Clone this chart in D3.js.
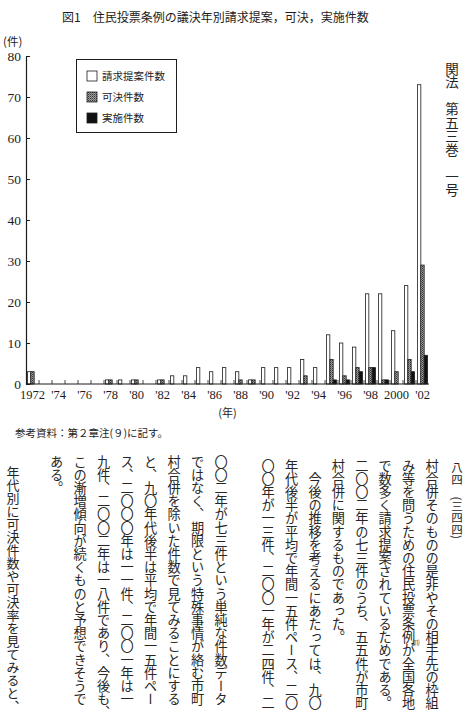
<!DOCTYPE html>
<html>
<head>
<meta charset="utf-8">
<script src="https://cdn.jsdelivr.net/npm/d3@7"></script>
<style>
  html, body { margin: 0; padding: 0; background: #fff; }
  svg { display: block; }
</style>
</head>
<body>
<div id="main"></div>
<script>
// Datos del gráfico: año de votación, propuestas, aprobadas, realizadas
var years = d3.range(1972, 2003);
var proposals   = [3,0,0,0,0,0,1,1,1,0,1,2,2,4,3,4,3,1,4,4,4,6,4,12,10,9,22,22,13,24,73];
var passed      = [3,0,0,0,0,0,1,0,1,0,1,0,0,0,0,0,1,1,0,0,0,2,0,6,2,4,4,1,3,6,29];
var implemented = [0,0,0,0,0,0,0,0,0,0,0,0,0,0,0,0,0,0,0,0,0,0,0,1,1,3,4,1,0,3,7];
var seriesNames = ["請求提案件数", "可決件数", "実施件数"];
var yTicks = [0, 10, 20, 30, 40, 50, 60, 70, 80];
var labelYears = [1972,1974,1976,1978,1980,1982,1984,1986,1988,1990,1992,1994,1996,1998,2000,2002];

// Texto vertical de la página (columnas de derecha a izquierda)
var rightColumns = [
  "村合併そのものの是非やその相手先の枠組",
  "み等を問うための住民投票条例が全国各地",
  "で数多く請求提案されているためである。",
  "二〇〇二年の七三件のうち、五五件が市町",
  "村合併に関するものであった。",
  "　今後の推移を考えるにあたっては、九〇",
  "年代後半が平均で年間一五件ペース、二〇",
  "〇〇年が一三件、二〇〇一年が二四件、二"
];
var leftColumns = [
  "〇〇二年が七三件という単純な件数データ",
  "ではなく、期限という特殊事情が絡む市町",
  "村合併を除いた件数で見てみることにする",
  "と、九〇年代後半は平均で年間一五件ペー",
  "ス、二〇〇〇年は一一件、二〇〇一年は一",
  "九件、二〇〇二年は一八件であり、今後も、",
  "この漸増傾向が続くものと予想できそうで",
  "ある。"
];
var lastColumn = "年代別に可決件数や可決率を見てみると、";

var width = 465, height = 721;
var ink = "#1c1c1c";
var cjk = "'Noto Sans CJK JP', sans-serif";
var serif = "'Liberation Serif', 'DejaVu Serif', serif";

var svg = d3.select("#main").append("svg")
  .attr("width", width)
  .attr("height", height)
  .style("background", "#fff");

// Trama para las barras de aprobadas
var pat = svg.append("defs").append("pattern")
  .attr("id", "hatch")
  .attr("patternUnits", "userSpaceOnUse")
  .attr("width", 2)
  .attr("height", 2);
pat.append("rect").attr("width", 2).attr("height", 2).attr("fill", "#a0a0a0");
pat.append("rect").attr("width", 1).attr("height", 1).attr("fill", "#333");
pat.append("rect").attr("x", 1).attr("y", 1).attr("width", 1).attr("height", 1).attr("fill", "#666");

var fills = ["#fff", "url(#hatch)", "#111"];

// Título
svg.append("text")
  .attr("x", 62).attr("y", 22)
  .style("font-family", cjk).style("font-size", "12px").style("fill", ink)
  .text("図1　住民投票条例の議決年別請求提案，可決，実施件数");

svg.append("text")
  .attr("x", 3).attr("y", 46)
  .style("font-family", cjk).style("font-size", "11.5px").style("fill", ink)
  .text("(件)");

// Escalas
var x = d3.scaleBand().domain(years).range([26, 429]).padding(0);
var xs = d3.scaleBand().domain([0, 1, 2]).range([1.5, 11.5]).padding(0);
var y = d3.scaleLinear().domain([0, 80]).range([384, 56]);

var chart = svg.append("g");

// Barras
var table = [proposals, passed, implemented];
table.forEach(function(values, s) {
  chart.append("g").selectAll("rect")
    .data(years.map(function(yr, i) { return { year: yr, v: values[i] }; }).filter(function(d) { return d.v > 0; }))
    .enter().append("rect")
    .attr("x", function(d) { return x(d.year) + xs(s); })
    .attr("y", function(d) { return y(d.v); })
    .attr("width", xs.bandwidth())
    .attr("height", function(d) { return y(0) - y(d.v); })
    .attr("fill", fills[s])
    .attr("stroke", ink)
    .attr("stroke-width", 0.8);
});

// Eje Y
var yAxis = svg.append("g")
  .attr("transform", "translate(26,0)")
  .call(d3.axisLeft(y).tickValues(yTicks).tickSize(-4).tickSizeOuter(0).tickPadding(5));
yAxis.select(".domain").attr("stroke", ink).attr("stroke-width", 1.2);
yAxis.selectAll(".tick line").attr("stroke", ink).attr("stroke-width", 1);
yAxis.selectAll(".tick text")
  .style("font-family", serif).style("font-size", "13.5px").style("fill", ink);

// Eje X: línea base y marcas entre años
svg.append("line")
  .attr("x1", x.range()[0]).attr("x2", x.range()[1])
  .attr("y1", y(0)).attr("y2", y(0))
  .attr("stroke", ink).attr("stroke-width", 1.2);
svg.append("g").selectAll("line")
  .data(years.slice(1))
  .enter().append("line")
  .attr("x1", function(d) { return x(d); })
  .attr("x2", function(d) { return x(d); })
  .attr("y1", y(0)).attr("y2", y(0) - 4)
  .attr("stroke", ink).attr("stroke-width", 0.8);

var xAxis = svg.append("g")
  .attr("transform", "translate(0," + y(0) + ")")
  .call(d3.axisBottom(x).tickValues(labelYears).tickSize(0).tickPadding(6)
    .tickFormat(function(d) { return (d === 1972 || d === 2000) ? String(d) : "'" + String(d).slice(2); }));
xAxis.select(".domain").remove();
xAxis.selectAll(".tick text")
  .style("font-family", serif).style("font-size", "12.5px").style("fill", ink);

svg.append("text")
  .attr("x", (x.range()[0] + x.range()[1]) / 2).attr("y", 417)
  .attr("text-anchor", "middle")
  .style("font-family", cjk).style("font-size", "11px").style("fill", ink)
  .text("(年)");

// Leyenda
var legend = svg.append("g");
legend.append("rect")
  .attr("x", 76.5).attr("y", 59.5).attr("width", 100).attr("height", 73)
  .attr("fill", "#fff").attr("stroke", ink).attr("stroke-width", 1);
seriesNames.forEach(function(name, i) {
  legend.append("rect")
    .attr("x", 87).attr("y", 71 + i * 21).attr("width", 10).attr("height", 10)
    .attr("fill", fills[i]).attr("stroke", ink).attr("stroke-width", 0.8);
  legend.append("text")
    .attr("x", 102).attr("y", 80 + i * 21)
    .style("font-family", cjk).style("font-size", "10.5px").style("fill", ink)
    .text(name);
});

// Nota de fuente
svg.append("text")
  .attr("x", 15).attr("y", 437)
  .style("font-family", cjk).style("font-size", "10.5px").style("fill", ink)
  .text("参考資料：第２章注(９)に記す。");

// Encabezado vertical de la revista y número de página
function vtext(px, py, size, str) {
  return svg.append("text")
    .attr("x", px).attr("y", py)
    .style("writing-mode", "vertical-rl")
    .style("font-family", cjk).style("font-size", size + "px").style("fill", "#262626")
    .text(str);
}
vtext(452, 62, 13.5, "関法　第五三巻　一号");
vtext(457, 462, 11.5, "八四　(三四四)");

// Texto del cuerpo
rightColumns.forEach(function(line, i) {
  vtext(432 - i * 23.4, 459, 13.2, line);
});
leftColumns.forEach(function(line, i) {
  vtext(221 - i * 23.5, 455, 13.2, line);
});
vtext(13, 466, 13, lastColumn);

// Nota (11) junto a "条例"
svg.append("text")
  .attr("x", 416).attr("y", 645)
  .attr("text-anchor", "middle")
  .style("font-family", cjk).style("font-size", "7px").style("fill", ink)
  .text("⑾");
</script>
</body>
</html>
